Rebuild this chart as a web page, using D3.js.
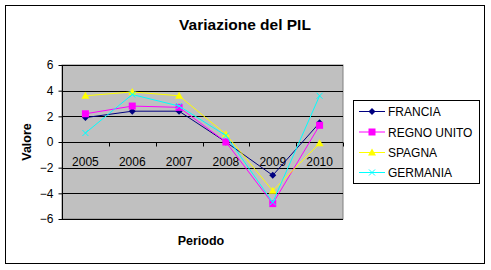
<!DOCTYPE html>
<html><head><meta charset="utf-8">
<script src="https://cdn.jsdelivr.net/npm/d3@7"></script>
<style>body{margin:0;background:#fff}svg{display:block}text{font-family:"Liberation Sans",Arial,sans-serif}</style>
</head><body><svg id="c" width="491" height="270"></svg>
<script>
const years = ["2005","2006","2007","2008","2009","2010"];
const francia = [1.9, 2.4, 2.4, 0.0, -2.6, 1.5];
const regnoUnito = [2.2, 2.8, 2.7, 0.0, -4.8, 1.3];
const spagna = [3.6, 3.9, 3.6, 0.6, -3.8, -0.1];
const germania = [0.7, 3.7, 2.8, 0.5, -4.7, 3.6];
const seriesNames = ["FRANCIA","REGNO UNITO","SPAGNA","GERMANIA"];
const yTicks = [-6,-4,-2,0,2,4,6];

const series = [
  {name: seriesNames[0], values: francia, color: "#000080", marker: "diamond"},
  {name: seriesNames[1], values: regnoUnito, color: "#FF00FF", marker: "square"},
  {name: seriesNames[2], values: spagna, color: "#FFFF00", marker: "triangle"},
  {name: seriesNames[3], values: germania, color: "#00FFFF", marker: "cross"}
];

const svg = d3.select("#c");
svg.append("rect").attr("x",5.5).attr("y",5.5).attr("width",479).attr("height",258)
  .attr("fill","#fff").attr("stroke","#000").attr("stroke-width",1);

const L=62, R=343, T=65, B=219;
const x = d3.scaleBand().domain(years).range([L,R]).padding(0);
const y = d3.scaleLinear().domain([-6,6]).range([B,T]);

svg.append("rect").attr("x",L).attr("y",T).attr("width",R-L).attr("height",B-T)
  .attr("fill","#C0C0C0").attr("stroke","#808080").attr("stroke-width",1);

// gridlines
svg.append("g").selectAll("line").data(yTicks).join("line")
  .attr("x1",L).attr("x2",R).attr("y1",d=>Math.round(y(d))+0.5).attr("y2",d=>Math.round(y(d))+0.5)
  .attr("stroke","#000").attr("stroke-width",1);

// y axis
const ya = svg.append("g").attr("transform",`translate(${L+0.5},0)`)
  .call(d3.axisLeft(y).tickValues(yTicks).tickSize(4).tickPadding(5).tickFormat(d3.format("d")));
ya.select(".domain").attr("stroke","#000").attr("d",`M0,${T}V${B+0.5}`);
ya.selectAll(".tick line").attr("stroke","#000");
ya.selectAll(".tick text").attr("font-size",12).attr("fill","#000")
  .attr("font-family","Liberation Sans, Arial, sans-serif");

// x axis at zero
const y0 = Math.round(y(0))+0.5;
const xa = svg.append("g").attr("transform",`translate(0,${y0})`);
xa.append("line").attr("x1",L).attr("x2",R).attr("stroke","#000");
const bounds = years.map(d=>x(d)).concat([R]);
xa.selectAll(".tk").data(bounds.slice(1)).join("line").attr("class","tk")
  .attr("x1",d=>Math.round(d)+0.5).attr("x2",d=>Math.round(d)+0.5).attr("y1",0).attr("y2",4).attr("stroke","#000");
xa.selectAll(".lb").data(years).join("text").attr("class","lb")
  .attr("x",d=>x(d)+x.bandwidth()/2).attr("y",23).attr("text-anchor","middle")
  .attr("font-size",12).attr("fill","#000").text(d=>d);

const cx = d=>x(d)+x.bandwidth()/2;
const line = d3.line().x((v,i)=>cx(years[i])).y(v=>y(v));

function drawMarker(g, type, px, py, color){
  if(type==="diamond"){
    g.append("path").attr("d",`M${px},${py-3.5}L${px+3.5},${py}L${px},${py+3.5}L${px-3.5},${py}Z`).attr("fill",color);
  } else if(type==="square"){
    g.append("rect").attr("x",px-3.5).attr("y",py-3.5).attr("width",7).attr("height",7).attr("fill",color);
  } else if(type==="triangle"){
    g.append("path").attr("d",`M${px},${py-4}L${px+4},${py+3}L${px-4},${py+3}Z`).attr("fill",color);
  } else {
    g.append("path").attr("d",`M${px-3},${py-3}L${px+3},${py+3}M${px-3},${py+3}L${px+3},${py-3}`).attr("stroke",color).attr("stroke-width",1).attr("fill","none");
  }
}

series.forEach(s=>{
  const g = svg.append("g");
  g.append("path").attr("d",line(s.values)).attr("fill","none").attr("stroke",s.color).attr("stroke-width",1);
  s.values.forEach((v,i)=>drawMarker(g, s.marker, cx(years[i]), y(v), s.color));
});

// titles
svg.append("text").attr("x",245).attr("y",30).attr("text-anchor","middle")
  .attr("font-size",15.5).attr("font-weight","bold").text("Variazione del PIL");
svg.append("text").attr("transform","translate(31,142) rotate(-90)").attr("text-anchor","middle")
  .attr("font-size",12.5).attr("font-weight","bold").text("Valore");
svg.append("text").attr("x",201).attr("y",245).attr("text-anchor","middle")
  .attr("font-size",12.5).attr("font-weight","bold").text("Periodo");

// legend
const lg = svg.append("g");
lg.append("rect").attr("x",353.5).attr("y",100.5).attr("width",126).attr("height",83)
  .attr("fill","#fff").attr("stroke","#000");
const ly = [111.5,132,152.5,172.5];
series.forEach((s,i)=>{
  lg.append("line").attr("x1",359).attr("x2",385).attr("y1",ly[i]).attr("y2",ly[i]).attr("stroke",s.color);
  drawMarker(lg, s.marker, 372, ly[i], s.color);
  lg.append("text").attr("x",388).attr("y",ly[i]+4.5).attr("font-size",12).text(s.name);
});
</script></body></html>
